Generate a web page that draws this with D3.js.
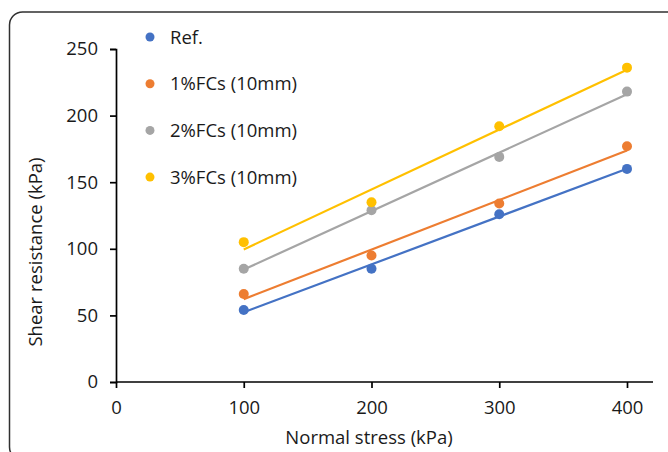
<!DOCTYPE html>
<html>
<head>
<meta charset="utf-8">
<script src="https://cdn.jsdelivr.net/npm/d3@7"></script>
<style>
  body { margin: 0; background: #fff; }
  text { font-family: "Open Sans", sans-serif; fill: #1a1a1a; }
</style>
</head>
<body>
<script>
// valeurs
const stress = [100, 200, 300, 400];
const names = ["Ref.", "1%FCs (10mm)", "2%FCs (10mm)", "3%FCs (10mm)"];
const ref = [54, 85, 126, 160];
const fc1 = [66, 95, 134, 177];
const fc2 = [85, 129, 169, 218];
const fc3 = [105, 135, 192, 236];
const colors = ["#4472C4", "#ED7D31", "#A5A5A5", "#FFC000"];
const xTicks = [0, 100, 200, 300, 400];
const yTicks = [0, 50, 100, 150, 200, 250];

const series = [ref, fc1, fc2, fc3];

var svg = d3.select("body").append("svg")
  .attr("width", 668)
  .attr("height", 452);

// cadre arrondi
svg.append("rect")
  .attr("x", 9.5).attr("y", 12)
  .attr("width", 680).attr("height", 448)
  .attr("rx", 13)
  .attr("fill", "none")
  .attr("stroke", "#303030")
  .attr("stroke-width", 1.5);

var x = d3.scaleLinear().domain([0, 400]).range([116, 627]);
var y = d3.scaleLinear().domain([0, 250]).range([382, 49]);

// axes
var gx = svg.append("g").attr("transform", "translate(0,382)");
gx.call(d3.axisBottom(x).tickValues(xTicks).tickSize(6).tickPadding(13));
gx.select(".domain").attr("d", "M116,0H653");
var gy = svg.append("g").attr("transform", "translate(116,0)");
gy.call(d3.axisLeft(y).tickValues(yTicks).tickSize(6).tickPadding(12));

svg.selectAll(".domain, .tick line").attr("stroke", "#000").attr("stroke-width", 1.7);
svg.selectAll(".tick text").attr("font-size", 18.5).attr("font-family", "Open Sans").attr("fill", "#1a1a1a");

// titres
svg.append("text")
  .attr("x", 369).attr("y", 444)
  .attr("text-anchor", "middle")
  .attr("font-size", 18.5)
  .text("Normal stress (kPa)");

svg.append("text")
  .attr("transform", "translate(42,252) rotate(-90)")
  .attr("text-anchor", "middle")
  .attr("font-size", 18.5)
  .text("Shear resistance (kPa)");

// droites de tendance (moindres carrés)
function fit(vals) {
  var mx = d3.mean(stress), my = d3.mean(vals);
  var num = d3.sum(stress, (s, i) => (s - mx) * (vals[i] - my));
  var den = d3.sum(stress, s => (s - mx) * (s - mx));
  var b = num / den;
  return [b, my - b * mx];
}

series.forEach((vals, k) => {
  var f = fit(vals);
  svg.append("line")
    .attr("x1", x(100)).attr("y1", y(f[1] + f[0] * 100))
    .attr("x2", x(400)).attr("y2", y(f[1] + f[0] * 400))
    .attr("stroke", colors[k])
    .attr("stroke-width", 2.2);

  svg.selectAll(null)
    .data(vals)
    .enter()
    .append("circle")
    .attr("cx", (d, i) => x(stress[i]))
    .attr("cy", d => y(d))
    .attr("r", 5)
    .attr("fill", colors[k]);
});

// légende
var leg = svg.append("g");
names.forEach((n, k) => {
  leg.append("circle")
    .attr("cx", 150).attr("cy", 37 + k * 46.7)
    .attr("r", 4.5)
    .attr("fill", colors[k]);
  leg.append("text")
    .attr("x", 170).attr("y", 37 + k * 46.7 + 6.5)
    .attr("font-size", 18.5)
    .text(n);
});
</script>
</body>
</html>
